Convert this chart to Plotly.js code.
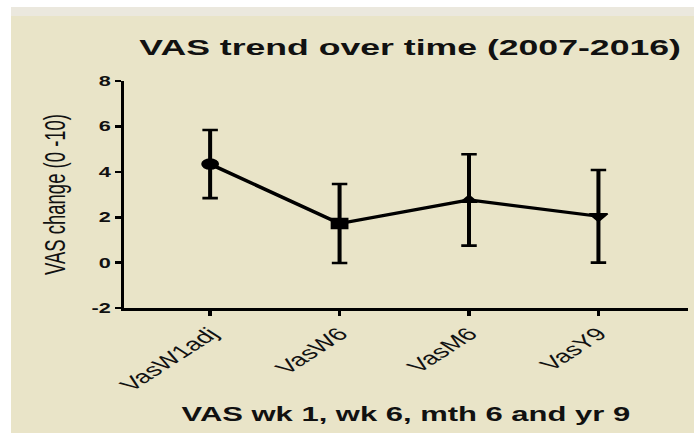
<!DOCTYPE html>
<html>
<head>
<meta charset="utf-8">
<script src="https://cdn.plot.ly/plotly-3.0.1.min.js"></script>
<style>
  html, body { margin: 0; padding: 0; background: #ffffff; }
  #wrap { position: relative; width: 694px; height: 433px; overflow: hidden; background: #ffffff; }
  #bg { position: absolute; left: 11px; top: 7px; width: 683px; height: 426px; background: #E9E4C8; }
  #strip { position: absolute; left: 11px; top: 7px; width: 683px; height: 9px; background: #EBE8DE; }
  #chart { position: absolute; left: 0; top: 0; width: 448px; height: 433px;
           transform: scaleX(1.549); transform-origin: 0 0; }
</style>
</head>
<body>
<div id="wrap">
  <div id="bg"></div>
  <div id="strip"></div>
  <div id="chart"></div>
</div>
<script>
// Data
const categories = ['VasW1adj', 'VasW6', 'VasM6', 'VasY9'];
const meanValues = [4.34, 1.72, 2.76, 2.04];
const errorValues = [1.50, 1.74, 2.01, 2.04];
const yTickValues = [-2, 0, 2, 4, 6, 8];

const markerSymbols = ['circle', 'square', 'triangle-up', 'triangle-down'];
const markerSizes = [10, 10, 9, 10];

const fontFamily = '"Liberation Sans", Arial, Helvetica, sans-serif';

const trace = {
  type: 'scatter',
  mode: 'lines+markers',
  x: categories,
  y: meanValues,
  line: { color: '#000000', width: 3.2 },
  marker: { color: '#000000', opacity: 1, symbol: markerSymbols, size: markerSizes,
            line: { color: '#000000', width: 1.5 } },
  error_y: { type: 'data', array: errorValues, visible: true, color: '#000000', thickness: 2.6, width: 5 },
  showlegend: false,
  hoverinfo: 'x+y'
};

const layout = {
  width: 448,
  height: 433,
  margin: { l: 80, r: 4, t: 81, b: 125 },
  paper_bgcolor: 'rgba(0,0,0,0)',
  plot_bgcolor: 'rgba(0,0,0,0)',
  font: { family: fontFamily, color: '#111111' },
  title: {
    text: '<b>VAS trend over time (2007-2016)</b>',
    font: { family: fontFamily, size: 23, color: '#111111' },
    xref: 'container', yref: 'container',
    x: 0.591, xanchor: 'center',
    y: 1 - 47 / 433, yanchor: 'middle'
  },
  xaxis: {
    type: 'category',
    range: [-0.666, 3.69],
    showline: true, linecolor: '#000000', linewidth: 3.2,
    ticks: 'outside', ticklen: 5, tickwidth: 2.2, tickcolor: '#000000',
    tickangle: -45,
    tickfont: { family: fontFamily, size: 18, color: '#111111' },
    showgrid: false, zeroline: false,
    automargin: false,
    title: {
      text: '<b>VAS wk 1, wk 6, mth 6 and yr 9</b>',
      font: { family: fontFamily, size: 20, color: '#111111' },
      standoff: 14
    }
  },
  yaxis: {
    range: [-2, 8],
    tickvals: yTickValues,
    ticktext: yTickValues.map(v => '<b>' + v + '</b>'),
    showline: true, linecolor: '#000000', linewidth: 2.2,
    ticks: 'outside', ticklen: 3.5, tickwidth: 2.6, tickcolor: '#000000',
    tickfont: { family: fontFamily, size: 14, color: '#111111' },
    showgrid: false, zeroline: false,
    automargin: false,
    title: {
      text: 'VAS change (0 -10)',
      font: { family: fontFamily, size: 18.5, color: '#111111' },
      standoff: 12
    }
  }
};

Plotly.newPlot('chart', [trace], layout, { displayModeBar: false, staticPlot: true });
</script>
</body>
</html>
